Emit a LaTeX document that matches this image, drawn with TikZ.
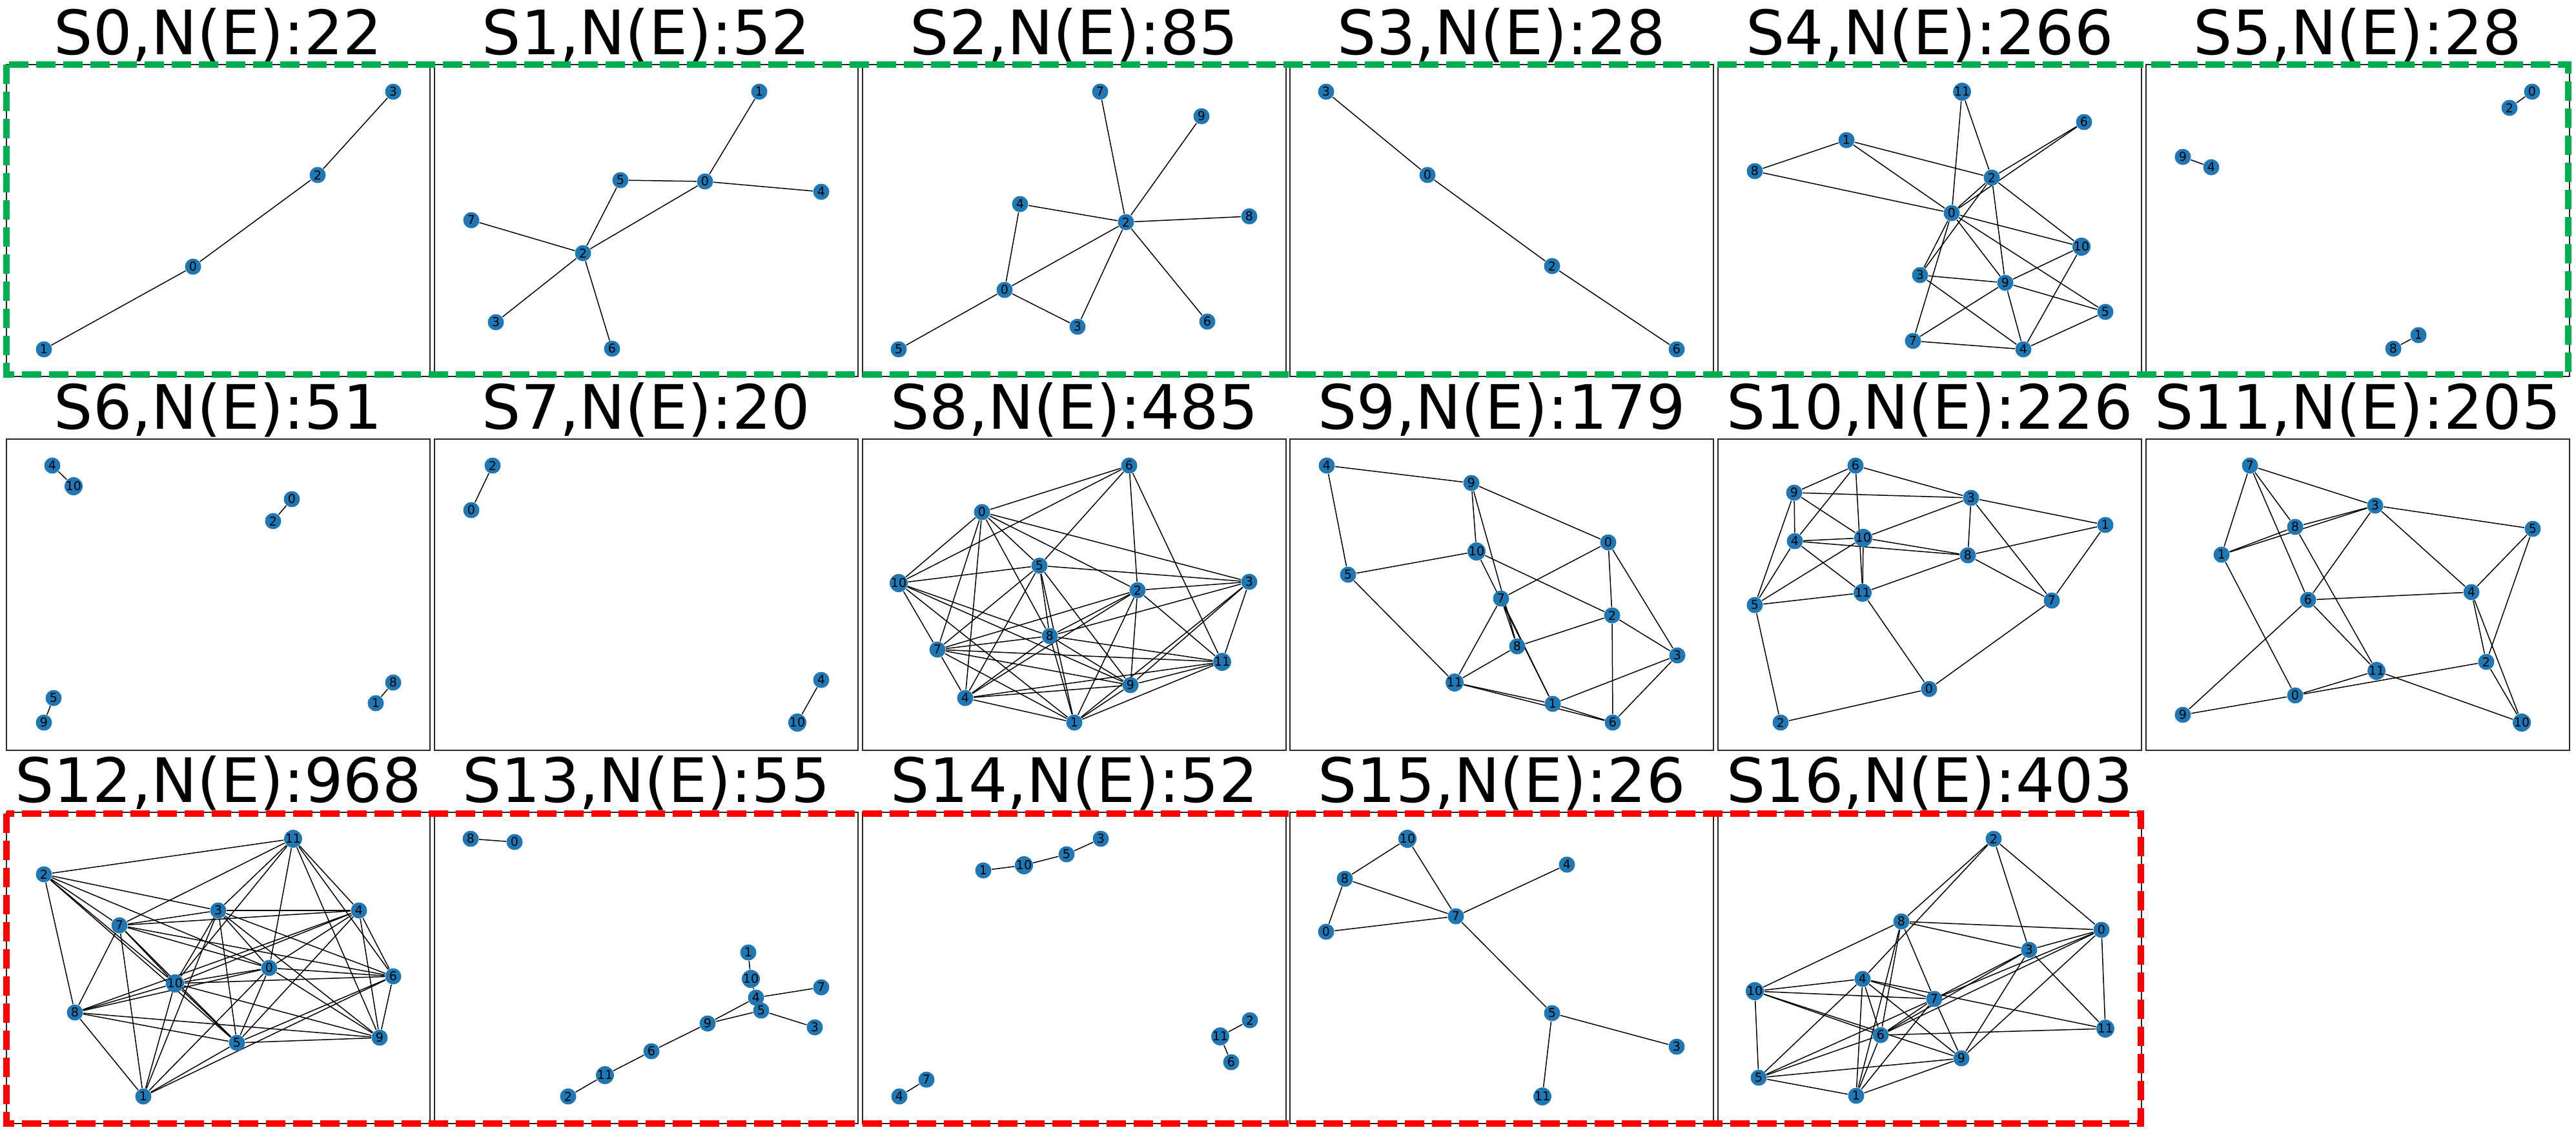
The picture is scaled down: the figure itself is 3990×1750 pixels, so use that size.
\documentclass[tikz,border=0pt]{standalone}
\usepackage{fontspec}
\setmainfont{DejaVu Sans}
\definecolor{nodeblue}{HTML}{1F77B4}
\definecolor{boxgreen}{RGB}{0,176,80}
\pgfdeclarelayer{edges}
\pgfsetlayers{edges,main}
\tikzset{
  gnode/.style={circle, fill=nodeblue, minimum size=2.5mm, inner sep=0pt, font=\fontsize{5.4}{5.4}\selectfont, text=black},
  gedge/.style={draw=black, line width=0.15mm},
  pframe/.style={draw=black!85, line width=0.2mm},
  ttl/.style={font=\fontsize{27}{29}\selectfont, anchor=base, inner sep=0pt},
  gbox/.style={draw=boxgreen, line width=1mm, dash pattern=on 3mm off 1.2mm},
  rbox/.style={draw=red, line width=1mm, dash pattern=on 3mm off 1.2mm},
}
\newcommand\gnd[4]{\node[gnode] (#1-#2) at (#3,#4) {#2};}
\newcommand\gedges[2]{\begin{pgfonlayer}{edges}\foreach \a/\b in {#2} {\draw[gedge] (#1-\a) -- (#1-\b);}\end{pgfonlayer}}
\begin{document}
\begin{tikzpicture}[x=0.1mm,y=-0.1mm]
\useasboundingbox (0,0) rectangle (3990,1750);
% frames
\foreach \c in {0,...,5} {
  \draw[pframe] ({10+662.8*\c},100) rectangle ++(656,483);
  \draw[pframe] ({10+662.8*\c},680) rectangle ++(656,482);
}
\foreach \c in {0,...,4} {
  \draw[pframe] ({10+662.8*\c},1258) rectangle ++(656,482);
}
% titles
\node[ttl] (t0) at (338,84) {S0,N(E):22};
\node[ttl] (t1) at (1001,84) {S1,N(E):52};
\node[ttl] (t2) at (1664,84) {S2,N(E):85};
\node[ttl] (t3) at (2326,84) {S3,N(E):28};
\node[ttl] (t4) at (2989,84) {S4,N(E):266};
\node[ttl] (t5) at (3652,84) {S5,N(E):28};
\node[ttl] (t6) at (338,664) {S6,N(E):51};
\node[ttl] (t7) at (1001,664) {S7,N(E):20};
\node[ttl] (t8) at (1664,664) {S8,N(E):485};
\node[ttl] (t9) at (2326,664) {S9,N(E):179};
\node[ttl] (t10) at (2989,664) {S10,N(E):226};
\node[ttl] (t11) at (3652,664) {S11,N(E):205};
\node[ttl] (t12) at (338,1242) {S12,N(E):968};
\node[ttl] (t13) at (1001,1242) {S13,N(E):55};
\node[ttl] (t14) at (1664,1242) {S14,N(E):52};
\node[ttl] (t15) at (2326,1242) {S15,N(E):26};
\node[ttl] (t16) at (2989,1242) {S16,N(E):403};
% S0
\gnd{p0}{3}{609}{142}\gnd{p0}{2}{492}{271}\gnd{p0}{0}{299}{413}\gnd{p0}{1}{68}{541}
\gedges{p0}{3/2,2/0,0/1}
% S1
\gnd{p1}{1}{1176}{142}\gnd{p1}{5}{961}{279}\gnd{p1}{0}{1092}{281}\gnd{p1}{4}{1272}{297}
\gnd{p1}{7}{730}{341}\gnd{p1}{2}{903}{392}\gnd{p1}{3}{768}{499}\gnd{p1}{6}{948}{540}
\gedges{p1}{1/0,5/0,0/4,5/2,0/2,7/2,2/3,2/6}
% S2
\gnd{p2}{7}{1704}{142}\gnd{p2}{9}{1861}{180}\gnd{p2}{4}{1580}{316}\gnd{p2}{2}{1744}{344}
\gnd{p2}{8}{1935}{335}\gnd{p2}{0}{1556}{449}\gnd{p2}{3}{1669}{506}\gnd{p2}{6}{1870}{498}
\gnd{p2}{5}{1392}{541}
\gedges{p2}{7/2,9/2,4/2,2/8,4/0,0/2,2/3,2/6,0/5,0/3}
% S3
\gnd{p3}{3}{2054}{142}\gnd{p3}{0}{2211}{271}\gnd{p3}{2}{2404}{412}\gnd{p3}{6}{2597}{541}
\gedges{p3}{3/0,0/2,2/6}
% S4
\gnd{p4}{11}{3039}{142}\gnd{p4}{6}{3228}{189}\gnd{p4}{1}{2860}{217}\gnd{p4}{8}{2718}{265}
\gnd{p4}{2}{3085}{275}\gnd{p4}{0}{3023}{330}\gnd{p4}{10}{3224}{382}\gnd{p4}{3}{2974}{426}
\gnd{p4}{9}{3106}{438}\gnd{p4}{5}{3261}{483}\gnd{p4}{7}{2963}{528}\gnd{p4}{4}{3134}{541}
\gedges{p4}{1/8,1/2,1/0,8/0,11/0,11/2,2/6,0/6,2/0,2/3,2/10,2/9,0/10,0/9,0/5,0/3,0/7,3/9,3/4,9/10,9/5,9/7,9/4,10/4,5/4,7/4}
% S5
\gnd{p5}{0}{3922}{142}\gnd{p5}{2}{3887}{167}\gnd{p5}{9}{3381}{243}\gnd{p5}{4}{3425}{259}
\gnd{p5}{1}{3746}{519}\gnd{p5}{8}{3707}{540}
\gedges{p5}{0/2,9/4,1/8}
% S6
\gnd{p6}{4}{81}{721}\gnd{p6}{10}{114}{753}\gnd{p6}{0}{452}{773}\gnd{p6}{2}{423}{807}
\gnd{p6}{8}{609}{1057}\gnd{p6}{1}{582}{1089}\gnd{p6}{5}{83}{1081}\gnd{p6}{9}{68}{1119}
\gedges{p6}{4/10,0/2,8/1,5/9}
% S7
\gnd{p7}{2}{763}{721}\gnd{p7}{0}{730}{790}\gnd{p7}{4}{1272}{1053}\gnd{p7}{10}{1235}{1119}
\gedges{p7}{2/0,4/10}
% S8
\gnd{p8}{6}{1749}{721}\gnd{p8}{0}{1521}{793}\gnd{p8}{5}{1610}{876}\gnd{p8}{10}{1392}{903}
\gnd{p8}{3}{1935}{901}\gnd{p8}{2}{1762}{914}\gnd{p8}{8}{1626}{985}\gnd{p8}{7}{1452}{1006}
\gnd{p8}{11}{1893}{1025}\gnd{p8}{9}{1751}{1061}\gnd{p8}{4}{1495}{1081}\gnd{p8}{1}{1664}{1119}
\gedges{p8}{6/0,6/10,6/5,6/2,6/11,0/10,0/7,0/4,0/8,0/5,0/2,0/3,5/10,5/3,5/7,5/4,5/8,5/9,5/1,10/7,10/8,10/9,10/1,3/2,3/8,3/9,3/1,3/11,2/7,2/8,2/4,2/9,2/1,2/11,8/7,8/4,8/11,8/9,8/1,7/11,7/9,7/1,7/4,4/9,4/11,4/1,11/9,11/1,9/1}
% S9
\gnd{p9}{4}{2055}{721}\gnd{p9}{9}{2279}{748}\gnd{p9}{0}{2491}{840}\gnd{p9}{10}{2287}{854}
\gnd{p9}{5}{2088}{890}\gnd{p9}{7}{2325}{927}\gnd{p9}{2}{2497}{953}\gnd{p9}{8}{2350}{1001}
\gnd{p9}{3}{2598}{1015}\gnd{p9}{11}{2253}{1057}\gnd{p9}{1}{2405}{1090}\gnd{p9}{6}{2498}{1119}
\gedges{p9}{4/9,4/5,9/0,9/10,9/8,10/1,7/8,7/1,0/7,0/2,0/3,10/5,10/2,5/11,7/11,2/8,2/3,2/6,8/11,11/1,11/6,1/3,1/6,3/6}
% S10
\gnd{p10}{6}{2874}{721}\gnd{p10}{9}{2779}{763}\gnd{p10}{3}{3053}{771}\gnd{p10}{1}{3261}{813}
\gnd{p10}{4}{2780}{838}\gnd{p10}{10}{2886}{833}\gnd{p10}{8}{3048}{860}\gnd{p10}{11}{2885}{918}
\gnd{p10}{5}{2718}{937}\gnd{p10}{7}{3178}{930}\gnd{p10}{0}{2988}{1067}\gnd{p10}{2}{2758}{1119}
\gedges{p10}{6/9,6/4,6/11,10/11,6/3,9/3,9/4,9/10,9/5,3/10,3/1,3/8,3/7,4/10,4/8,4/11,4/5,10/8,10/5,1/8,1/7,8/11,8/7,11/5,11/0,5/2,7/0,0/2}
% S11
\gnd{p11}{7}{3485}{721}\gnd{p11}{3}{3679}{783}\gnd{p11}{8}{3555}{816}\gnd{p11}{5}{3923}{819}
\gnd{p11}{1}{3441}{859}\gnd{p11}{4}{3828}{917}\gnd{p11}{6}{3575}{929}\gnd{p11}{2}{3851}{1025}
\gnd{p11}{11}{3681}{1039}\gnd{p11}{0}{3555}{1077}\gnd{p11}{9}{3381}{1107}\gnd{p11}{10}{3906}{1119}
\gedges{p11}{7/1,7/3,7/8,7/6,3/8,3/1,8/1,8/11,3/5,3/6,3/4,1/0,5/4,5/2,4/6,4/2,4/10,6/9,6/11,2/0,2/10,11/0,11/10,9/0}
% S12
\gnd{p12}{11}{454}{1299}\gnd{p12}{2}{68}{1354}\gnd{p12}{3}{338}{1410}\gnd{p12}{4}{556}{1410}
\gnd{p12}{7}{185}{1433}\gnd{p12}{0}{417}{1499}\gnd{p12}{6}{609}{1512}\gnd{p12}{10}{271}{1523}
\gnd{p12}{8}{116}{1568}\gnd{p12}{9}{588}{1607}\gnd{p12}{5}{367}{1615}\gnd{p12}{1}{222}{1698}
\gedges{p12}{11/2,11/7,11/3,11/10,11/0,11/9,11/6,11/4,2/8,2/7,2/10,2/5,2/3,2/0,3/4,3/7,3/10,3/1,3/5,3/0,3/9,3/6,4/7,4/10,4/8,4/5,4/0,4/6,4/9,7/0,7/6,7/10,7/5,7/8,7/1,0/6,0/10,0/8,0/5,0/1,0/9,6/10,6/9,6/5,6/1,10/8,10/1,10/5,10/9,8/9,8/5,8/1,9/5,5/1}
% S13
\gnd{p13}{8}{729}{1299}\gnd{p13}{0}{797}{1304}\gnd{p13}{1}{1159}{1475}\gnd{p13}{10}{1163}{1516}
\gnd{p13}{7}{1272}{1529}\gnd{p13}{4}{1171}{1545}\gnd{p13}{5}{1179}{1565}\gnd{p13}{3}{1262}{1591}
\gnd{p13}{9}{1096}{1585}\gnd{p13}{6}{1009}{1628}\gnd{p13}{11}{937}{1665}\gnd{p13}{2}{880}{1698}
\gedges{p13}{8/0,1/10,10/4,4/7,4/9,5/9,5/3,9/6,6/11,11/2}
% S14
\gnd{p14}{3}{1705}{1299}\gnd{p14}{5}{1652}{1323}\gnd{p14}{10}{1586}{1340}\gnd{p14}{1}{1523}{1348}
\gnd{p14}{2}{1936}{1580}\gnd{p14}{11}{1890}{1605}\gnd{p14}{6}{1907}{1645}\gnd{p14}{7}{1435}{1672}
\gnd{p14}{4}{1393}{1698}
\gedges{p14}{3/5,5/10,10/1,2/11,11/6,7/4}
% S15
\gnd{p15}{10}{2180}{1299}\gnd{p15}{4}{2427}{1339}\gnd{p15}{8}{2083}{1361}\gnd{p15}{7}{2255}{1419}
\gnd{p15}{0}{2054}{1443}\gnd{p15}{5}{2404}{1569}\gnd{p15}{3}{2597}{1621}\gnd{p15}{11}{2389}{1698}
\gedges{p15}{10/8,10/7,8/7,8/0,0/7,7/4,7/5,5/3,5/11}
% S16
\gnd{p16}{2}{3088}{1299}\gnd{p16}{8}{2945}{1427}\gnd{p16}{0}{3255}{1440}\gnd{p16}{3}{3143}{1471}
\gnd{p16}{4}{2885}{1516}\gnd{p16}{10}{2718}{1535}\gnd{p16}{7}{2996}{1547}\gnd{p16}{11}{3261}{1593}
\gnd{p16}{6}{2913}{1603}\gnd{p16}{9}{3038}{1639}\gnd{p16}{5}{2724}{1669}\gnd{p16}{1}{2875}{1697}
\gedges{p16}{2/8,2/4,2/3,2/0,8/0,8/3,8/10,8/7,8/6,8/1,0/3,0/7,0/6,0/9,0/11,3/7,3/6,3/9,3/11,4/10,4/7,4/6,4/9,4/5,4/1,4/11,10/7,10/6,10/9,10/5,7/6,7/5,7/9,7/1,6/11,6/5,6/1,9/5,9/1,5/1}
% dashed group boxes
\draw[gbox] (10,100) rectangle (3978,580);
\draw[rbox] (10,1260) rectangle (3316,1740);
\end{tikzpicture}
\end{document}
